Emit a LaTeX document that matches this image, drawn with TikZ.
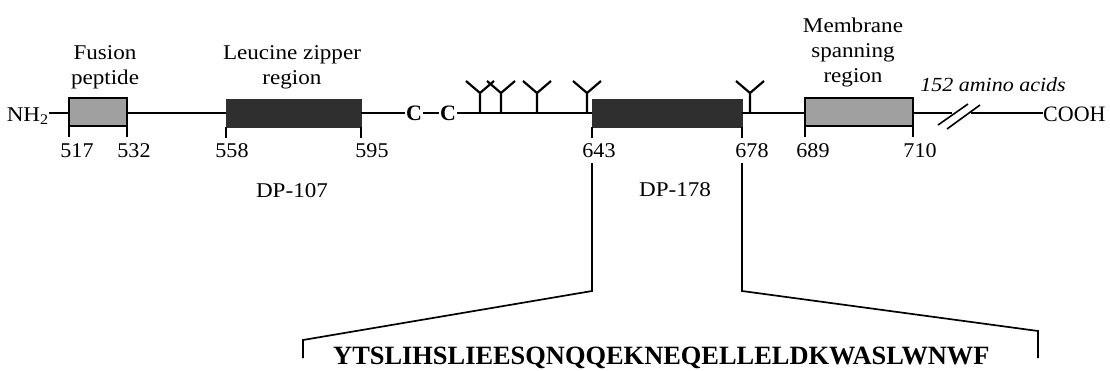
\documentclass[tikz,border=0pt]{standalone}
\usepackage{fontspec}
\setmainfont{Liberation Serif}
\definecolor{boxgray}{HTML}{A0A0A0}
\definecolor{boxlight}{HTML}{C4C4C4}
\definecolor{boxdark}{HTML}{2F2F2F}
\begin{document}
\begin{tikzpicture}[x=1pt,y=-1pt,
  mainline/.style={line width=1.5pt, black},
  lbl/.style={font=\fontsize{21}{25}\selectfont, inner sep=0pt, align=center, xscale=1.1},
  num/.style={font=\fontsize{21}{24}\selectfont, inner sep=0pt, xscale=1.05},
  dplbl/.style={font=\fontsize{21}{24}\selectfont, inner sep=0pt, xscale=1.1},
  cys/.style={font=\bfseries\fontsize{22}{24}\selectfont, inner ysep=0pt, inner xsep=0.5pt},
  seq/.style={font=\bfseries\fontsize{26.4}{30}\selectfont, inner sep=0pt},
  graybox/.style={draw=black, line width=2pt, fill=boxgray, minimum height=28pt, inner sep=0pt, outer sep=0pt},
  darkbox/.style={draw=boxdark, line width=1pt, fill=boxdark, minimum height=28pt, inner sep=0pt, outer sep=0pt},
  tickline/.style={line width=1.5pt},
  conn/.style={line width=1.7pt},
  breakmark/.style={line width=1.6pt},
  pics/glyco/.style={code={\draw[line width=2.2pt] (0,0) -- (0,-20) -- (-14,-32) (0,-20) -- (14,-32);}}
]
\useasboundingbox (0,0) rectangle (1110,370);

% boxes
\node[graybox, minimum width=58pt, anchor=west] (fus) at (69,112) {};
\node[darkbox, minimum width=135pt, anchor=west] (leu) at (226,113) {};
\node[darkbox, minimum width=150pt, anchor=west] (dp) at (592,113) {};
\node[graybox, minimum width=108pt, anchor=west] (mem) at (805,112) {};

% ends
\node[lbl, anchor=base east] (nh2) at (49,121) {NH\textsubscript{2}};
\node[font=\fontsize{22}{25}\selectfont, inner sep=0pt, anchor=base west] (cooh) at (1043,121) {COOH};

% cysteines
\node[cys] (c1) at (414,113.5) {C};
\node[cys] (c2) at (448,113.5) {C};

% break
\coordinate (b1) at (952,113);
\coordinate (b2) at (971,113);

% main chain
\draw[mainline] (nh2.east |- leu.west) -- (fus.west |- leu.west);
\draw[mainline] (fus.east |- leu.west) -- (leu.west);
\draw[mainline] (leu.east) -- (c1.west |- leu.east);
\draw[mainline] (c1.east |- leu.east) -- (c2.west |- leu.east);
\draw[mainline] (c2.east |- leu.east) -- (dp.west);
\draw[mainline] (dp.east) -- (mem.west |- dp.east);
\draw[mainline] (mem.east |- dp.east) -- (b1);
\draw[mainline] (b2) -- (cooh.west |- b2);
\draw[breakmark] (938,125) -- (968,104) (947,129) -- (980,105);

% glycosylation sites
\pic at (480,113) {glyco};
\pic at (501,113) {glyco};
\pic at (537,113) {glyco};
\pic at (587,113) {glyco};
\pic at (750,113) {glyco};

% ticks
\draw[tickline] (fus.south west) -- ++(0,11);
\draw[tickline] (fus.south east) -- ++(0,11);
\draw[tickline] (leu.south west) -- ++(0,11);
\draw[tickline] (leu.south east) -- ++(0,11);
\draw[tickline] (dp.south west) -- ++(0,11);
\draw[tickline] (dp.south east) -- ++(0,11);
\draw[tickline] (mem.south west) -- ++(0,11);
\draw[tickline] (mem.south east) -- ++(0,11);

% numbers
\node[num, anchor=base] (n517) at (77,157) {517};
\node[num, anchor=base] (n532) at (134,157) {532};
\node[num, anchor=base] (n558) at (232,157) {558};
\node[num, anchor=base] (n595) at (372,157) {595};
\node[num, anchor=base] (n643) at (599,157) {643};
\node[num, anchor=base] (n678) at (752,157) {678};
\node[num, anchor=base] (n689) at (813,157) {689};
\node[num, anchor=base] (n710) at (920,157) {710};

% region labels
\node[lbl, anchor=south] (tfus) at (105,89) {Fusion\\peptide};
\node[lbl, anchor=south] (tleu) at (292,89) {Leucine zipper\\region};
\node[lbl, anchor=south] (tmem) at (853,87) {Membrane\\spanning\\region};
\node[lbl, font=\itshape\fontsize{20}{24}\selectfont, anchor=base] (t152) at (993,91) {152 amino acids};

\node[dplbl, anchor=base] (dp107) at (292,197) {DP-107};
\node[dplbl, anchor=base] (dp178) at (675,196) {DP-178};

% expansion lines
\coordinate (l1) at (592,163);
\coordinate (l2) at (592,291);
\coordinate (l3) at (303,340);
\coordinate (l4) at (303,358);
\coordinate (r1) at (742,163);
\coordinate (r2) at (742,291);
\coordinate (r3) at (1038,331);
\coordinate (r4) at (1038,358);
\draw[conn] (l1) -- (l2) -- (l3) -- (l4);
\draw[conn] (r1) -- (r2) -- (r3) -- (r4);

\node[seq, anchor=base west] (seqt) at (333,364) {YTSLIHSLIEESQNQQEKNEQELLELDKWASLWNWF};
\end{tikzpicture}
\end{document}
